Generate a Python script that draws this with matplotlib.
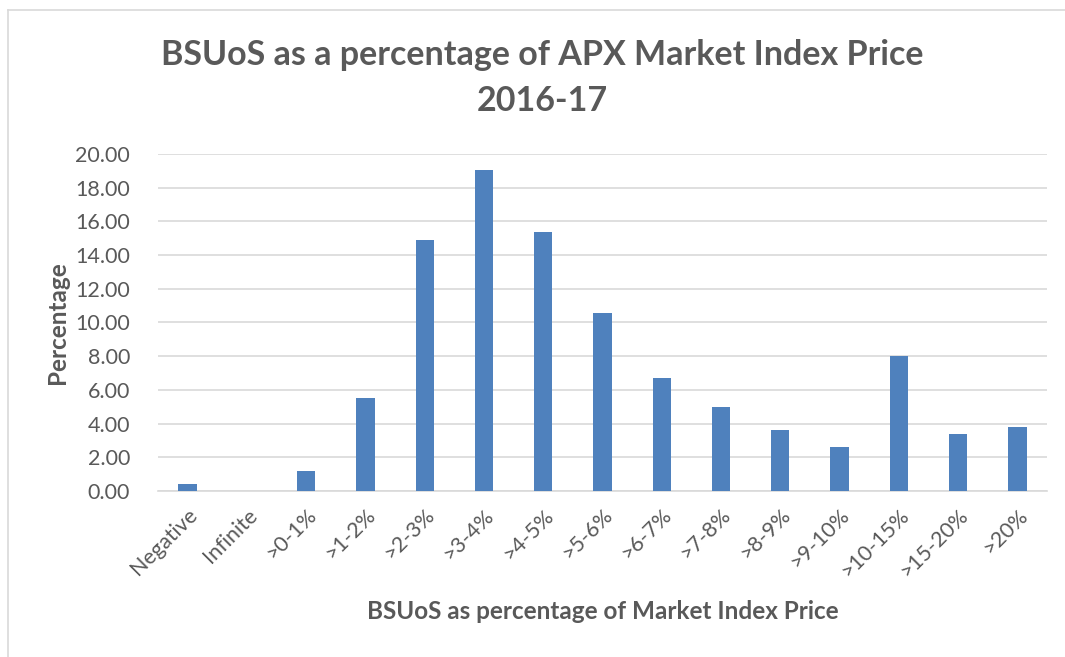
import matplotlib.pyplot as plt
from matplotlib.lines import Line2D
import numpy as np

plt.rcParams['font.family'] = ['Lato', 'DejaVu Sans']

categories = ["Negative", "Infinite", ">0-1%", ">1-2%", ">2-3%", ">3-4%", ">4-5%",
              ">5-6%", ">6-7%", ">7-8%", ">8-9%", ">9-10%", ">10-15%",
              ">15-20%", ">20%"]
values = [0.42, 0.02, 1.18, 5.52, 14.90, 19.03, 15.40, 10.55, 6.72, 4.98,
          3.60, 2.62, 8.00, 3.38, 3.80]

grey = "#595959"

fig = plt.figure(figsize=(10.65, 6.57), dpi=100)
ax = fig.add_axes([158 / 1065, 0.2527, 889 / 1065, 0.5129])

x = np.arange(len(categories))
ax.bar(x, values, width=0.31, color="#4f81bd", zorder=3)

ax.set_xlim(-0.5, len(categories) - 0.5)
ax.set_ylim(0, 20)
ax.set_yticks(np.arange(0, 21, 2))
ax.set_yticklabels([f"{v:.2f}" for v in np.arange(0, 21, 2)])
ax.yaxis.grid(True, color="#d9d9d9", linewidth=1.2, zorder=0)
ax.set_xticks(x)
ax.set_xticklabels(categories, rotation=45, ha="right", rotation_mode="anchor")
ax.tick_params(axis="both", length=0, labelsize=15.5, colors=grey)
ax.tick_params(axis="x", pad=10)
ax.tick_params(axis="y", pad=20)
for s in ["top", "right", "left"]:
    ax.spines[s].set_visible(False)
ax.spines["bottom"].set_color("#d9d9d9")
ax.spines["bottom"].set_linewidth(1.2)

ax.set_ylabel("Percentage", fontsize=17.5, fontweight="bold", color=grey)
ax.yaxis.set_label_coords(-0.100, 0.5)
fig.text(0.566, 0.0685, "BSUoS as percentage of Market Index Price",
         ha="center", va="center", fontsize=17.5, fontweight="bold", color=grey)
fig.text(0.509, 0.881, "BSUoS as a percentage of APX Market Index Price\n2016-17",
         ha="center", va="center", fontsize=24.5, fontweight="bold", color=grey,
         linespacing=1.55)

# chart area border (left and top edges visible)
fig.add_artist(Line2D([8 / 1065, 8 / 1065], [0, 1 - 10 / 657],
                      transform=fig.transFigure, color="#d9d9d9", linewidth=1.2))
fig.add_artist(Line2D([8 / 1065, 1], [1 - 10 / 657, 1 - 10 / 657],
                      transform=fig.transFigure, color="#d9d9d9", linewidth=1.2))

fig.savefig("out.png", dpi=100)
